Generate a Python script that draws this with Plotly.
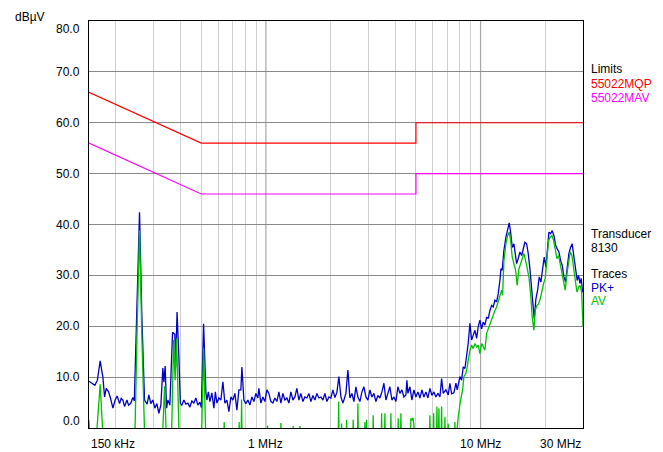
import math
import plotly.graph_objects as go

# ---------------- data ----------------
PK_FREQ_MHZ = [0.150, 0.1548, 0.1598, 0.1641, 0.1691, 0.1741, 0.1773, 0.1804, 0.1851, 0.1891, 0.1938, 0.1986, 0.2029, 0.2082, 0.2118, 0.2157, 0.2197, 0.2252, 0.2293, 0.2343, 0.2401, 0.2439, 0.2507, 0.2579, 0.2644, 0.2721, 0.2799, 0.2850, 0.2912, 0.2975, 0.3040, 0.3106, 0.3174, 0.3242, 0.3312, 0.3348, 0.3395, 0.3447, 0.3495, 0.3570, 0.3675, 0.3767, 0.3796, 0.3857, 0.3933, 0.3996, 0.4061, 0.4149, 0.4240, 0.4332, 0.4425, 0.4521, 0.4619, 0.4720, 0.4822, 0.4927, 0.5007, 0.5126, 0.5254, 0.5311, 0.5397, 0.5485, 0.5604, 0.5725, 0.5818, 0.5912, 0.6040, 0.6172, 0.6306, 0.6442, 0.6582, 0.6725, 0.6870, 0.7019, 0.7172, 0.7327, 0.7486, 0.7648, 0.7731, 0.7814, 0.7898, 0.8069, 0.8244, 0.8423, 0.8606, 0.8792, 0.8983, 0.9178, 0.9277, 0.9478, 0.9684, 0.9893, 1.0108, 1.0327, 1.0551, 1.0780, 1.1014, 1.1253, 1.1497, 1.1746, 1.2001, 1.2261, 1.2527, 1.2798, 1.3076, 1.3360, 1.3650, 1.3946, 1.4248, 1.4557, 1.4873, 1.5195, 1.5525, 1.5861, 1.6205, 1.6557, 1.6915, 1.7283, 1.7657, 1.8040, 1.8431, 1.8831, 1.9240, 1.9656, 2.0083, 2.0519, 2.0963, 2.1418, 2.1882, 2.2357, 2.2842, 2.3088, 2.3589, 2.4101, 2.4622, 2.5157, 2.5702, 2.6260, 2.6830, 2.7410, 2.8005, 2.8612, 2.9233, 2.9867, 3.0514, 3.1177, 3.1853, 3.2543, 3.3249, 3.3969, 3.4707, 3.5459, 3.6228, 3.7014, 3.7816, 3.8637, 3.9474, 4.0330, 4.1205, 4.2097, 4.3012, 4.3943, 4.4897, 4.5382, 4.5871, 4.6865, 4.7883, 4.8920, 4.9981, 5.1066, 5.2172, 5.3305, 5.4459, 5.5641, 5.6848, 5.8079, 5.9340, 6.0626, 6.1941, 6.3285, 6.4656, 6.585, 6.699, 6.8955, 7.068, 7.198, 7.331, 7.513, 7.6763, 7.784, 8.013, 8.161, 8.302, 8.454, 8.610, 8.759, 8.920, 9.085, 9.242, 9.411, 9.586, 9.751, 9.930, 10.113, 10.288, 10.477, 10.670, 10.855, 11.055, 11.259, 11.453, 11.663, 11.879, 12.084, 12.306, 12.439, 12.613, 12.845, 13.124, 13.366, 13.597, 13.803, 14.041, 14.300, 14.454, 14.721, 14.975, 15.250, 15.532, 15.800, 16.091, 16.389, 16.672, 16.978, 17.291, 17.590, 17.777, 18.106, 18.439, 18.759, 19.104, 19.456, 19.793, 20.157, 20.528, 20.815, 21.199, 21.565, 21.962, 22.367, 22.753, 23.173, 23.600, 24.008, 24.450, 24.900, 25.330, 25.797, 26.273, 26.726, 27.218, 27.720, 28.198, 28.625, 29.027, 29.435, 29.881, 30.0]

PK_DBUV = [9.2, 8.8, 8.4, 9.4, 13.2, 10.0, 6.1, 7.8, 7.1, 5.8, 3.9, 5.5, 6.3, 4.8, 5.8, 5.5, 4.2, 5.5, 4.5, 4.8, 6.0, 5.3, 25.0, 42.4, 22.0, 5.5, 4.7, 6.5, 4.8, 5.5, 3.9, 4.8, 2.9, 4.5, 11.8, 9.0, 12.2, 3.9, 5.5, 4.5, 18.8, 18.4, 12.0, 22.8, 14.0, 4.8, 4.5, 5.5, 4.7, 4.9, 4.1, 5.3, 4.9, 5.9, 4.5, 5.1, 4.0, 20.5, 7.1, 5.5, 7.1, 5.2, 6.9, 3.9, 7.1, 4.9, 5.9, 5.5, 9.1, 4.9, 5.5, 3.2, 6.1, 5.5, 6.8, 3.5, 7.5, 7.5, 12.0, 8.1, 5.5, 4.8, 5.5, 4.5, 6.1, 5.2, 6.8, 5.9, 7.8, 4.9, 6.1, 5.2, 7.5, 6.8, 5.2, 4.9, 5.9, 5.2, 7.1, 4.9, 6.8, 5.5, 5.9, 4.9, 7.1, 5.5, 6.1, 7.8, 5.5, 6.8, 5.2, 6.1, 5.9, 6.8, 5.2, 6.4, 5.5, 6.8, 5.9, 6.1, 5.5, 6.8, 5.2, 6.1, 5.9, 7.5, 6.0, 7.0, 10.1, 6.1, 4.9, 5.5, 6.8, 11.4, 5.9, 6.8, 5.2, 8.1, 6.1, 5.2, 7.1, 8.1, 6.1, 5.5, 7.5, 6.1, 6.8, 5.2, 6.4, 5.9, 7.1, 8.8, 5.5, 6.8, 8.1, 5.5, 6.1, 5.2, 8.1, 6.8, 7.5, 6.1, 6.5, 9.4, 6.8, 8.1, 5.5, 7.5, 6.1, 7.1, 5.9, 7.5, 6.1, 7.1, 5.9, 7.8, 6.4, 7.1, 6.1, 6.8, 6.1, 9.7, 6.8, 7.5, 6.5, 8.8, 6.7, 6.9, 8.8, 7.5, 10.1, 9.4, 12.0, 11.7, 14.0, 16.6, 20.6, 17.3, 18.2, 19.2, 17.6, 19.9, 21.2, 19.5, 20.8, 20.2, 21.8, 21.5, 23.1, 24.1, 23.8, 25.1, 24.8, 26.4, 29.0, 31.3, 31.0, 34.9, 37.5, 39.2, 40.3, 38.5, 35.5, 36.2, 34.3, 32.3, 33.3, 34.6, 33.9, 35.5, 36.5, 36.2, 34.3, 31.3, 27.7, 24.4, 21.5, 25.4, 27.1, 29.7, 28.7, 31.3, 33.6, 31.6, 35.5, 38.5, 38.2, 38.8, 37.8, 35.9, 35.2, 34.6, 32.9, 32.0, 29.7, 28.7, 31.6, 34.3, 35.5, 36.2, 33.6, 31.6, 29.0, 30.0, 28.4, 29.4, 26.7, 27.5]

AV_FREQ_MHZ = [0.150, 0.1525, 0.1603, 0.1691, 0.1760, 0.2445, 0.2515, 0.2579, 0.2644, 0.2739, 0.3277, 0.3374, 0.3458, 0.3621, 0.3718, 0.3779, 0.3837, 0.3961, 0.4996, 0.5126, 0.5271, 0.6353, 0.6394, 0.6435, 0.7461, 0.7509, 0.7557, 0.7656, 0.7706, 0.7756, 1.0119, 1.0184, 1.0250, 1.1670, 1.1746, 1.1822, 1.3317, 1.3403, 1.3490, 1.4308, 1.4401, 1.4494, 2.1689, 2.1829, 2.1970, 2.2382, 2.2527, 2.2673, 2.3615, 2.3768, 2.3922, 2.5346, 2.5510, 2.5676, 2.6657, 2.6830, 2.7004, 2.8735, 2.8921, 2.9109, 2.9455, 2.9646, 3.1411, 3.1615, 3.1820, 3.4373, 3.4597, 3.4822, 3.5610, 3.5841, 3.6074, 3.7977, 3.8224, 3.8472, 4.1071, 4.1338, 4.1607, 4.2277, 4.2552, 4.2829, 4.6865, 4.7371, 4.7883, 4.8399, 4.8920, 4.9448, 5.7706, 5.8079, 5.8456, 6.0089, 6.0479, 6.0872, 6.2206, 6.2610, 6.3017, 6.3554, 6.3966, 6.4382, 6.5425, 6.585, 6.6278, 6.7778, 6.8218, 6.8661, 7.0224, 7.068, 7.1139, 7.5453, 7.5943, 7.6437, 7.6763, 7.759, 7.868, 8.073, 8.248, 8.364, 8.5455, 8.665, 8.796, 8.920, 9.085, 9.242, 9.411, 9.586, 9.751, 9.930, 10.113, 10.288, 10.477, 10.670, 10.855, 11.055, 11.259, 11.453, 11.663, 11.879, 12.084, 12.306, 12.534, 12.668, 12.845, 13.124, 13.366, 13.597, 13.803, 14.041, 14.300, 14.563, 14.815, 15.087, 15.366, 15.631, 15.920, 16.213, 16.493, 16.797, 17.106, 17.401, 17.722, 17.970, 18.302, 18.637, 18.960, 19.310, 19.664, 20.005, 20.375, 20.748, 21.107, 21.497, 21.890, 22.270, 22.681, 23.096, 23.497, 23.932, 24.370, 24.792, 25.250, 25.712, 26.158, 26.642, 27.129, 27.599, 28.109, 28.625, 29.120, 29.564, 30.0]

AV_DBUV = [1.5, -5, -5, 8.6, -5, -5, 20.0, 38.8, 18.0, -5, -5, 8.2, -5, -5, 17.3, 9.4, 17.6, -5, -5, 15.6, -5, -5, 1.2, -5, -5, 1.2, -5, -5, 5.6, -5, -5, 0.5, -5, -5, 1.0, -5, -5, 0.4, -5, -5, 0.4, -5, -5, 5.2, -5, -5, 0.9, -5, -5, 1.6, -5, -5, 1.6, -5, -5, 4.8, -5, -5, 1.2, -5, 1.6, -5, -5, 2.5, -5, -5, 2.9, -5, -5, 2.9, -5, -5, 2.9, -5, -5, 1.9, -5, -5, 2.9, -5, -5, 1.9, 1.5, 2.0, 0.6, -5, -5, 2.5, -5, -5, 2.9, -5, -5, 4.2, -5, -5, 3.9, -5, -5, 4.2, -5, -5, 2.2, -5, -5, 0.9, -5, -5, 1.2, -5, -3, 0.3, 2.2, 5.5, 7.5, 10.1, 10.7, 12.0, 14.0, 15.3, 16.3, 15.6, 16.6, 15.9, 16.3, 14.6, 16.6, 15.9, 15.3, 18.6, 19.5, 20.5, 21.5, 22.5, 23.1, 23.8, 24.8, 26.1, 27.1, 26.1, 32.9, 36.2, 37.8, 38.5, 36.9, 33.6, 32.3, 31.0, 28.0, 31.3, 32.3, 33.3, 34.3, 32.9, 31.6, 29.7, 26.4, 21.8, 19.2, 23.1, 24.1, 24.4, 25.4, 27.1, 28.4, 29.4, 33.6, 36.9, 37.5, 37.8, 36.9, 34.9, 33.3, 33.9, 32.3, 31.0, 28.7, 27.1, 30.3, 32.9, 34.6, 33.9, 31.3, 28.7, 26.7, 27.7, 28.0, 26.7, 19.9]

LIMIT_FREQ_MHZ = [0.15, 0.5, 5.0, 5.0, 30.0]
LIMIT_QP_DBUV = [66.0, 56.0, 56.0, 60.0, 60.0]
LIMIT_AV_DBUV = [56.0, 46.0, 46.0, 50.0, 50.0]

Y_TICKS = [0, 10, 20, 30, 40, 50, 60, 70, 80]
Y_TICK_TEXT = ["0.0", "10.0", "20.0", "30.0", "40.0", "50.0", "60.0", "70.0", "80.0"]
X_LABELS = [(0.15, "150 kHz"), (1.0, "1 MHz"), (10.0, "10 MHz"), (30.0, "30 MHz")]
X_MINOR_GRID = [0.2, 0.3, 0.4, 0.5, 0.6, 0.7, 0.8, 0.9, 2, 3, 4, 5, 6, 7, 8, 9, 20]
X_MAJOR_GRID = [1.0, 10.0]

FONT = "Liberation Sans, Arial, sans-serif"
BLUE = "#0000c8"
GREEN = "#00c000"
RED = "#ff0000"
MAGENTA = "#ff00ff"

fig = go.Figure()
fig.add_trace(go.Scatter(x=LIMIT_FREQ_MHZ, y=LIMIT_QP_DBUV, mode="lines",
                         line=dict(color=RED, width=1.2), showlegend=False))
fig.add_trace(go.Scatter(x=LIMIT_FREQ_MHZ, y=LIMIT_AV_DBUV, mode="lines",
                         line=dict(color=MAGENTA, width=1.2), showlegend=False))
fig.add_trace(go.Scatter(x=PK_FREQ_MHZ, y=PK_DBUV, mode="lines",
                         line=dict(color=BLUE, width=1.3), showlegend=False))
fig.add_trace(go.Scatter(x=AV_FREQ_MHZ, y=AV_DBUV, mode="lines",
                         line=dict(color=GREEN, width=1.3), showlegend=False))

shapes = []
for f in X_MAJOR_GRID:
    shapes.append(dict(type="line", xref="x", yref="paper", x0=f, x1=f, y0=0, y1=1,
                       line=dict(color="#a8a8a8", width=1.2), layer="below"))

annotations = []
for v, t in zip(Y_TICKS, Y_TICK_TEXT):
    shift = 0
    if v == 80:
        shift = -8
    elif v == 0:
        shift = 7
    annotations.append(dict(x=0, xref="paper", y=v, yref="y", text=t, showarrow=False,
                            xanchor="right", yanchor="middle", xshift=-7, yshift=shift,
                            font=dict(family=FONT, size=12, color="#000")))

for f, t in X_LABELS:
    anchor = "center"
    if f == 0.15:
        anchor = "left"
    elif f == 30.0:
        anchor = "right"
    annotations.append(dict(x=math.log10(f), xref="x", y=0, yref="paper", text=t,
                            showarrow=False, xanchor=anchor, yanchor="middle", yshift=-16,
                            font=dict(family=FONT, size=12, color="#000")))

annotations.append(dict(x=-0.1545, xref="paper", y=1.0319, yref="paper", text="dBµV",
                        showarrow=False, xanchor="left", yanchor="top",
                        font=dict(family=FONT, size=12, color="#000")))

right_texts = [
    ("Limits", 0.8813, "#000"),
    ("55022MQP", 0.8457, RED),
    ("55022MAV", 0.8101, MAGENTA),
    ("Transducer", 0.4767, "#000"),
    ("8130", 0.4423, "#000"),
    ("Traces", 0.3796, "#000"),
    ("PK+", 0.3452, BLUE),
    ("AV", 0.3120, GREEN),
]
for t, yy, c in right_texts:
    annotations.append(dict(x=1.013, xref="paper", y=yy, yref="paper", text=t,
                            showarrow=False, xanchor="left", yanchor="middle",
                            font=dict(family=FONT, size=12, color=c)))

# The page body has an 8 px default margin, so the figure is made 8 px
# smaller in each direction to sit exactly inside the 663x452 window.
fig.update_layout(
    width=655, height=444,
    margin=dict(l=81, r=80, t=13, b=24),
    paper_bgcolor="white", plot_bgcolor="white",
    font=dict(family=FONT, size=12, color="#000"),
    showlegend=False,
    shapes=shapes,
    annotations=annotations,
    xaxis=dict(type="log", range=[math.log10(0.15), math.log10(30)],
               tickvals=X_MINOR_GRID, showticklabels=False, ticks="",
               showgrid=True, gridcolor="#cfcfcf", gridwidth=1.2,
               showline=True, linecolor="#000", linewidth=1, mirror=True,
               zeroline=False, fixedrange=True),
    yaxis=dict(range=[0, 80], tickvals=Y_TICKS, showticklabels=False, ticks="",
               showgrid=True, gridcolor="#8a8a8a", gridwidth=1,
               showline=True, linecolor="#000", linewidth=1, mirror=True,
               zeroline=False, fixedrange=True),
)

fig.write_html("out.html")
